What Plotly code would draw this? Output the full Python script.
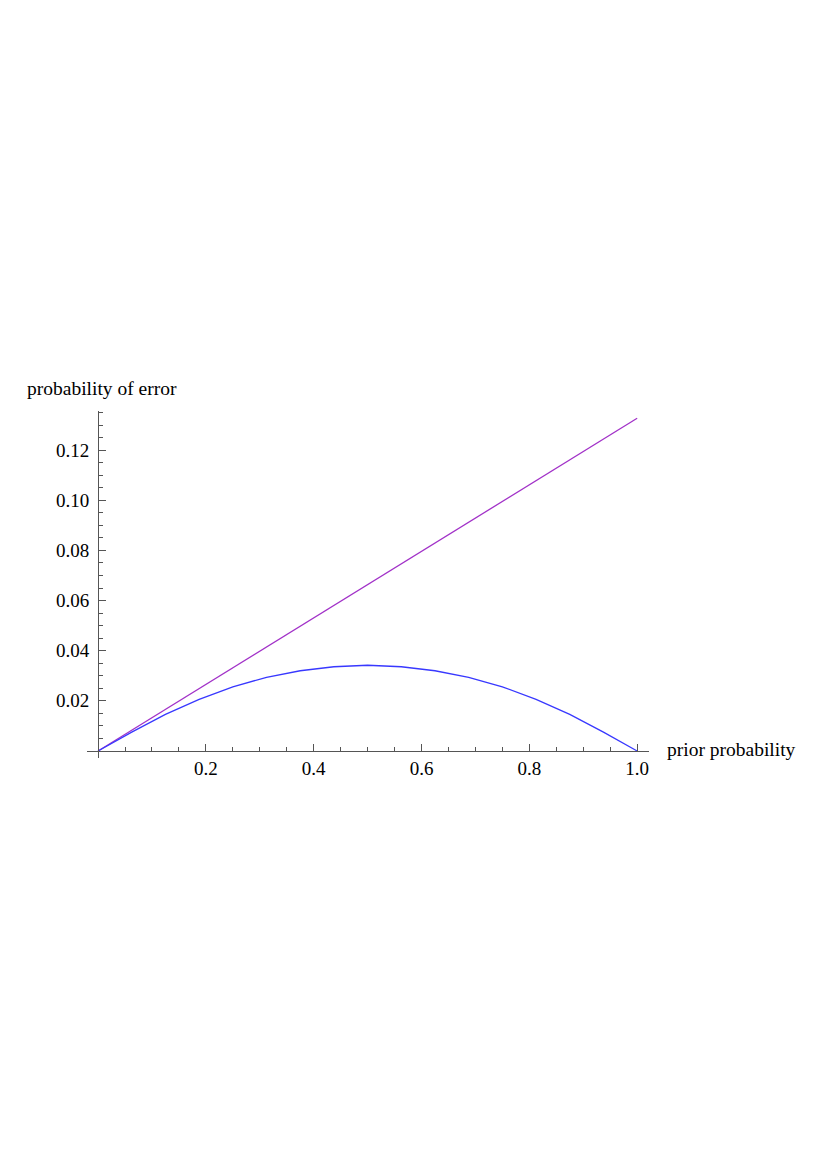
import plotly.graph_objects as go

# Data
prior = [0.0, 0.0625, 0.125, 0.1875, 0.25, 0.3125, 0.375, 0.4375, 0.5,
         0.5625, 0.625, 0.6875, 0.75, 0.8125, 0.875, 0.9375, 1.0]
error_curve = [0.0, 0.0075, 0.0146, 0.0206, 0.0256, 0.0294, 0.0320, 0.0336, 0.0342,
               0.0336, 0.0320, 0.0294, 0.0256, 0.0206, 0.0146, 0.0075, 0.0]
line_x = [0.0, 0.5, 1.0]
line_y = [0.0, 0.0664, 0.1327]

x_ticks = [0.2, 0.4, 0.6, 0.8, 1.0]
x_ticktext = ["0.2", "0.4", "0.6", "0.8", "1.0"]
y_ticks = [0.02, 0.04, 0.06, 0.08, 0.10, 0.12]
y_ticktext = ["0.02", "0.04", "0.06", "0.08", "0.10", "0.12"]
x_minor = [0.05, 0.1, 0.15, 0.25, 0.3, 0.35, 0.45, 0.5, 0.55, 0.65, 0.7, 0.75, 0.85, 0.9, 0.95]
y_minor = [0.005, 0.01, 0.015, 0.025, 0.03, 0.035, 0.045, 0.05, 0.055, 0.065, 0.07, 0.075,
           0.085, 0.09, 0.095, 0.105, 0.11, 0.115, 0.125, 0.13, 0.135]

# page has an 8px body margin
W, H = 801, 1141
L, T = 79, 403
PW, PH = 562, 347
XR = [-0.0205, 1.022]
YR = [-0.0028, 0.1356]

FONT = "Liberation Serif, Times New Roman, serif"
AX = "#555555"

fig = go.Figure()
fig.add_trace(go.Scatter(x=line_x, y=line_y, mode="lines",
                         line=dict(color="#a232c8", width=1.3), showlegend=False))
fig.add_trace(go.Scatter(x=prior, y=error_curve, mode="lines",
                         line=dict(color="#3838ff", width=1.3), showlegend=False))

xpos = (0 - YR[0]) / (YR[1] - YR[0])
ypos = (0 - XR[0]) / (XR[1] - XR[0])


def px_x(page_x):
    return (page_x - 8 - L) / PW


def px_y(page_y):
    return 1 - (page_y - 8 - T) / PH


fig.update_layout(
    width=W, height=H,
    margin=dict(l=L, r=W - L - PW, t=T, b=H - T - PH, pad=0),
    paper_bgcolor="white", plot_bgcolor="white",
    font=dict(family=FONT, size=19, color="black"),
    xaxis=dict(range=XR, anchor="free", position=xpos, showgrid=False, zeroline=False,
               showline=True, linecolor=AX, linewidth=1,
               tickmode="array", tickvals=x_ticks, ticktext=x_ticktext,
               ticks="inside", ticklen=7, tickcolor=AX, tickwidth=1,
               tickfont=dict(family=FONT, size=19, color="black"),
               minor=dict(tickmode="array", tickvals=x_minor, ticks="inside",
                          ticklen=4, tickcolor=AX, tickwidth=1, showgrid=False)),
    yaxis=dict(range=YR, anchor="free", position=ypos, showgrid=False, zeroline=False,
               showline=True, linecolor=AX, linewidth=1,
               tickmode="array", tickvals=y_ticks, ticktext=y_ticktext,
               ticks="inside", ticklen=7, tickcolor=AX, tickwidth=1,
               ticklabelstandoff=5,
               tickfont=dict(family=FONT, size=19, color="black"),
               minor=dict(tickmode="array", tickvals=y_minor, ticks="inside",
                          ticklen=4, tickcolor=AX, tickwidth=1, showgrid=False)),
    annotations=[
        dict(text="probability of error", x=px_x(25), y=px_y(388), xref="paper", yref="paper",
             xanchor="left", yanchor="middle", showarrow=False,
             font=dict(family=FONT, size=19.5, color="black")),
        dict(text="prior probability", x=px_x(665), y=px_y(749), xref="paper", yref="paper",
             xanchor="left", yanchor="middle", showarrow=False,
             font=dict(family=FONT, size=19.5, color="black")),
    ],
)

fig.write_html("out.html")
